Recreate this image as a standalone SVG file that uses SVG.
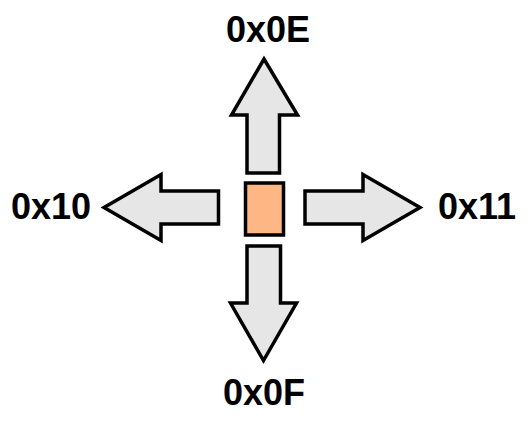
<svg xmlns="http://www.w3.org/2000/svg" width="532" height="424" viewBox="0 0 532 424">
<style>
.arrow{fill:#e6e6e6;stroke:#000;stroke-width:3.5;stroke-linejoin:miter}
.lbl{font-family:"Liberation Sans",Arial,sans-serif;font-weight:bold;font-size:36px;fill:#000;text-anchor:middle}
</style>
<rect width="532" height="424" fill="#fff"/>
<g id="connectors">
<polygon id="arrow-up" class="arrow" points="247,173 247,115 231.5,115 264,59 297.5,115 279.5,115 279.5,173"/>
<polygon id="arrow-down" class="arrow" points="247,246 280.5,246 280.5,303 296.5,303 263.5,360.5 230.5,303 247,303"/>
<polygon id="arrow-left" class="arrow" points="218.5,191 161,191 161,174.5 104,207.5 161,240.5 161,224 218.5,224"/>
<polygon id="arrow-right" class="arrow" points="305,191 363,191 363,174.5 420,207.5 363,240.5 363,224 305,224"/>
</g>
<g id="center">
<rect x="245.5" y="183" width="38" height="52" fill="#ffb685" stroke="#000" stroke-width="3.5"/>
</g>
<g id="node-0x0E"><text class="lbl" x="268" y="42">0x0E</text></g>
<g id="node-0x10"><text class="lbl" x="51" y="219">0x10</text></g>
<g id="node-0x11"><text class="lbl" x="477" y="219">0x11</text></g>
<g id="node-0x0F"><text class="lbl" x="264" y="405">0x0F</text></g>
</svg>
